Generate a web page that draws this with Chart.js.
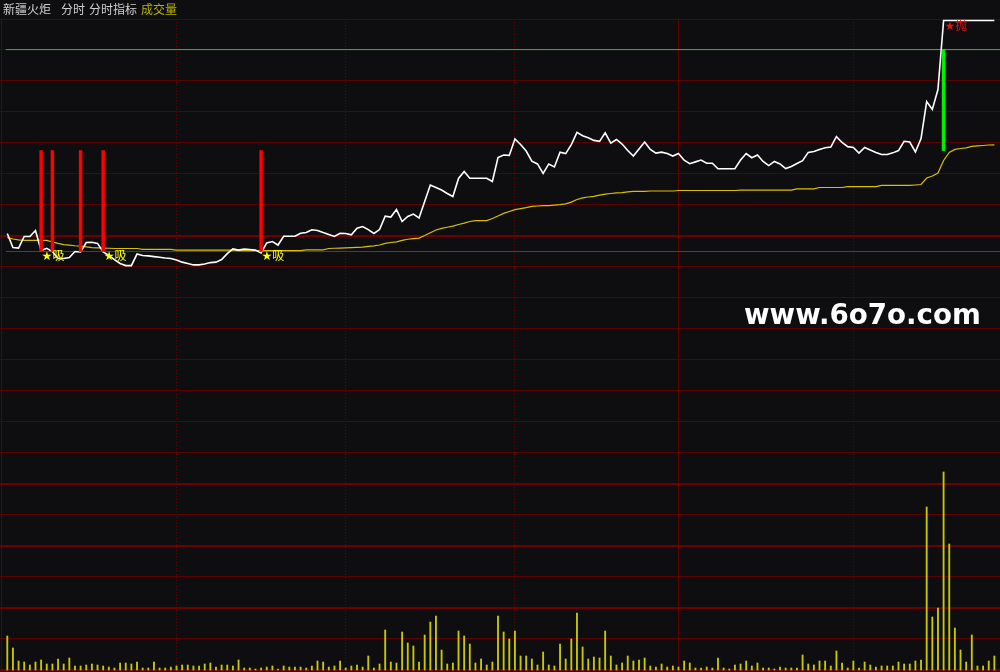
<!DOCTYPE html>
<html>
<head>
<meta charset="utf-8">
<script src="https://cdn.jsdelivr.net/npm/chart.js@4/dist/chart.umd.min.js"></script>
<style>
html, body { margin: 0; padding: 0; background: #0e0e11; }
#wrap { position: relative; width: 1000px; height: 672px; overflow: hidden; }
#chart { position: absolute; left: 0; top: 0; }
.ttl { position: absolute; top: 1px; font: 12px "Noto Sans CJK SC", sans-serif; line-height: 16px; color: #d0d0d0; white-space: nowrap; }
#mark { position: absolute; left: 744px; top: 301px; font: bold 27.7px "DejaVu Sans", sans-serif; line-height: 27.7px; color: #ffffff; white-space: nowrap; }
</style>
</head>
<body>
<div id="wrap">
  <canvas id="chart" width="1000" height="672"></canvas>
  <span class="ttl" style="left:3px">新疆火炬</span>
  <span class="ttl" style="left:61px">分时</span>
  <span class="ttl" style="left:89px">分时指标</span>
  <span class="ttl" style="left:141px;color:#b4b400">成交量</span>
  <div id="mark">www.6o7o.com</div>
</div>
<script>
// one value per minute, % change against previous close
const priceChg = [
  0.78, 0.17, 0.15, 0.65, 0.65, 0.91, 0.04, 0.14, 0.00, -0.30,
  -0.30, -0.26, 0.00, -0.02, 0.39, 0.40, 0.35, -0.02, -0.17, -0.35,
  -0.52, -0.61, -0.61, -0.11, -0.17, -0.19, -0.22, -0.25, -0.28, -0.30,
  -0.37, -0.46, -0.52, -0.58, -0.58, -0.54, -0.48, -0.46, -0.35, -0.09,
  0.11, 0.06, 0.11, 0.09, 0.06, -0.06, 0.37, 0.43, 0.28, 0.66,
  0.66, 0.66, 0.79, 0.82, 0.94, 0.91, 0.82, 0.74, 0.65, 0.79,
  0.78, 0.72, 1.01, 1.08, 0.95, 0.78, 0.95, 1.53, 1.49, 1.82,
  1.30, 1.52, 1.62, 1.45, 2.16, 2.88, 2.77, 2.66, 2.51, 2.38,
  3.16, 3.46, 3.17, 3.17, 3.17, 3.17, 3.03, 4.07, 4.18, 4.16,
  4.87, 4.63, 4.35, 3.91, 3.79, 3.38, 3.79, 3.66, 4.30, 4.24,
  4.63, 5.16, 5.01, 4.92, 4.81, 4.77, 5.14, 4.69, 4.85, 4.65,
  4.37, 4.13, 4.44, 4.74, 4.42, 4.26, 4.30, 4.24, 4.13, 4.24,
  3.95, 3.80, 3.88, 3.96, 3.82, 3.82, 3.58, 3.58, 3.58, 3.58,
  3.96, 4.24, 4.06, 4.18, 3.90, 3.72, 3.90, 3.79, 3.59, 3.68,
  3.81, 3.93, 4.29, 4.33, 4.42, 4.49, 4.52, 4.97, 4.72, 4.54,
  4.50, 4.26, 4.50, 4.39, 4.29, 4.20, 4.20, 4.27, 4.37, 4.77,
  4.74, 4.31, 4.89, 6.49, 6.15, 7.01, 10.00, 10.00, 10.00, 10.00,
  10.00, 10.00, 10.00, 10.00, 10.00, 10.00
];
const avgChg = [
  0.61, 0.54, 0.50, 0.48, 0.48, 0.48, 0.48, 0.48, 0.41, 0.35,
  0.30, 0.28, 0.25, 0.23, 0.20, 0.17, 0.16, 0.15, 0.14, 0.13,
  0.13, 0.13, 0.13, 0.13, 0.09, 0.09, 0.09, 0.09, 0.09, 0.09,
  0.06, 0.06, 0.06, 0.06, 0.06, 0.06, 0.06, 0.06, 0.06, 0.06,
  0.06, 0.04, 0.04, 0.04, 0.04, 0.04, 0.04, 0.04, 0.04, 0.04,
  0.04, 0.04, 0.04, 0.07, 0.07, 0.07, 0.07, 0.13, 0.14, 0.15,
  0.16, 0.17, 0.18, 0.19, 0.22, 0.24, 0.28, 0.35, 0.39, 0.42,
  0.48, 0.53, 0.56, 0.58, 0.69, 0.81, 0.93, 1.00, 1.05, 1.10,
  1.17, 1.23, 1.30, 1.34, 1.34, 1.34, 1.43, 1.54, 1.65, 1.73,
  1.81, 1.86, 1.90, 1.95, 1.97, 1.99, 1.99, 2.01, 2.03, 2.06,
  2.14, 2.25, 2.32, 2.36, 2.39, 2.44, 2.48, 2.51, 2.54, 2.55,
  2.58, 2.60, 2.60, 2.60, 2.62, 2.62, 2.62, 2.62, 2.62, 2.64,
  2.64, 2.64, 2.64, 2.64, 2.64, 2.64, 2.64, 2.64, 2.64, 2.64,
  2.66, 2.66, 2.66, 2.66, 2.66, 2.66, 2.66, 2.66, 2.66, 2.66,
  2.71, 2.71, 2.71, 2.71, 2.77, 2.77, 2.77, 2.77, 2.77, 2.81,
  2.81, 2.81, 2.81, 2.81, 2.81, 2.86, 2.86, 2.86, 2.86, 2.86,
  2.86, 2.88, 2.90, 3.18, 3.27, 3.40, 3.94, 4.29, 4.42, 4.46,
  4.49, 4.55, 4.57, 4.59, 4.61, 4.62
];
const volume = [
  340, 220, 90, 80, 50, 80, 100, 60, 60, 110,
  60, 120, 40, 40, 50, 60, 50, 40, 30, 20,
  70, 70, 60, 80, 20, 20, 80, 20, 20, 30,
  40, 50, 50, 40, 40, 60, 70, 30, 50, 50,
  40, 100, 20, 20, 10, 20, 30, 40, 10, 40,
  30, 30, 30, 20, 40, 90, 80, 30, 40, 90,
  20, 40, 50, 30, 140, 20, 60, 400, 80, 70,
  380, 270, 240, 80, 350, 480, 540, 200, 60, 70,
  390, 340, 260, 70, 110, 50, 80, 540,
  380, 310, 390, 140, 140, 110, 50, 180, 50, 40,
  260, 110, 310, 570, 230, 110, 130, 120, 390, 140,
  50, 70, 140, 90, 100, 120, 40, 30, 60, 30,
  40, 30, 90, 70, 20, 20, 30, 20, 120, 20,
  10, 50, 60, 90, 40, 70, 20, 20, 10, 30,
  20, 20, 20, 150, 60, 50, 90, 90, 40, 190,
  70, 20, 90, 20, 80, 50, 30, 40, 40, 40,
  80, 60, 60, 90, 100, 1630, 530, 620, 1980, 1260,
  420, 200, 80, 350, 40, 40, 90, 140
];
// signal indicator
const buyIdx = [6, 8, 13, 17, 45];
const buyMarkIdx = [6, 17, 45];
const sellIdx = [166];
const baseLevel = 0;
const midLevel = 4.37;
const topLevel = 8.74;

const X_MIN = -1.29, X_MAX = 176.0;
const xGrid = [-0.94, 30, 60, 90, 119, 150];
const dottedX = [30, 60, 90, 150];
const rowGrid = [0, 1, 2, 3, 4, 5, 6, 7, 8, 9, 10, 11, 12, 13, 14, 15, 16, 17, 18, 19, 20, 21];
const thickRows = [7, 15, 17, 19, 21];

const pts = arr => arr.map((v, i) => ({x: i, y: v}));
const tickIn = (c, list) => !!(c.tick && list.includes(c.tick.value));

const signalText = {
    id: 'signalText',
    afterDatasetsDraw(chart) {
        const {ctx, scales: {x, y}} = chart;
        ctx.save();
        ctx.font = '12px "DejaVu Sans", "Noto Sans CJK SC"';
        ctx.textBaseline = 'middle';
        ctx.fillStyle = '#ffff00';
        buyMarkIdx.forEach(i => {
            ctx.fillText('★吸', x.getPixelForValue(i) + 0.5, y.getPixelForValue(baseLevel) + 5);
        });
        ctx.fillStyle = '#e81010';
        sellIdx.forEach(i => {
            ctx.fillText('★抛', x.getPixelForValue(i) + 1, y.getPixelForValue(priceChg[i]) + 6);
        });
        ctx.restore();
    }
};

new Chart(document.getElementById('chart'), {
    data: {
        datasets: [
            {
                type: 'line', yAxisID: 'y', order: 10,
                data: [{x: -0.25, y: topLevel}, {x: X_MAX, y: topLevel}],
                borderColor: '#30c020', borderWidth: 1, pointRadius: 0
            },
            {
                type: 'line', yAxisID: 'y', order: 10,
                data: [{x: -0.25, y: baseLevel}, {x: X_MAX, y: baseLevel}],
                borderColor: '#e00000', borderWidth: 1, pointRadius: 0
            },
            {
                type: 'bar', yAxisID: 'vol', order: 9, grouped: false,
                data: pts(volume),
                backgroundColor: '#c8c800', barThickness: 1.2
            },
            {
                type: 'line', yAxisID: 'y', order: 8,
                data: pts(avgChg),
                borderColor: '#d8c000', borderWidth: 1.2, pointRadius: 0, tension: 0
            },
            {
                type: 'line', yAxisID: 'y', order: 7,
                data: pts(priceChg),
                borderColor: '#ffffff', borderWidth: 1.6, pointRadius: 0, tension: 0
            },
            {
                type: 'bar', yAxisID: 'y', order: 1, grouped: false,
                data: buyIdx.map(i => ({x: i, y: [baseLevel, midLevel]})),
                backgroundColor: '#ff0000', barThickness: 2.8
            },
            {
                type: 'bar', yAxisID: 'y', order: 1, grouped: false,
                data: sellIdx.map(i => ({x: i, y: [midLevel, topLevel]})),
                backgroundColor: '#00ee00', barThickness: 3
            }
        ]
    },
    options: {
        responsive: false,
        animation: false,
        events: [],
        layout: {padding: {top: 19, left: 0, right: 0, bottom: 0}},
        plugins: {legend: {display: false}, tooltip: {enabled: false}},
        scales: {
            x: {
                type: 'linear', min: X_MIN, max: X_MAX, offset: false,
                afterBuildTicks: s => { s.ticks = xGrid.map(v => ({value: v})); },
                ticks: {display: false},
                grid: {
                    offset: false, drawTicks: false, lineWidth: 1,
                    color: c => tickIn(c, dottedX) ? '#6a0000' : '#600000'
                },
                border: {
                    display: false,
                    dash: c => tickIn(c, dottedX) ? [1, 2] : []
                }
            },
            y: {type: 'linear', min: -18.203, max: 10.065, display: false},
            vol: {type: 'linear', min: -20, max: 6510, display: false},
            rows: {
                type: 'linear', position: 'left', reverse: true, min: 0, max: 21.065,
                afterBuildTicks: s => { s.ticks = rowGrid.map(v => ({value: v})); },
                ticks: {display: false},
                grid: {
                    drawTicks: false,
                    color: c => tickIn(c, thickRows) ? '#6e0000' : '#5c0000',
                    lineWidth: c => tickIn(c, thickRows) ? 2 : 1
                },
                border: {display: false}
            }
        }
    },
    plugins: [signalText]
});
</script>
</body>
</html>
